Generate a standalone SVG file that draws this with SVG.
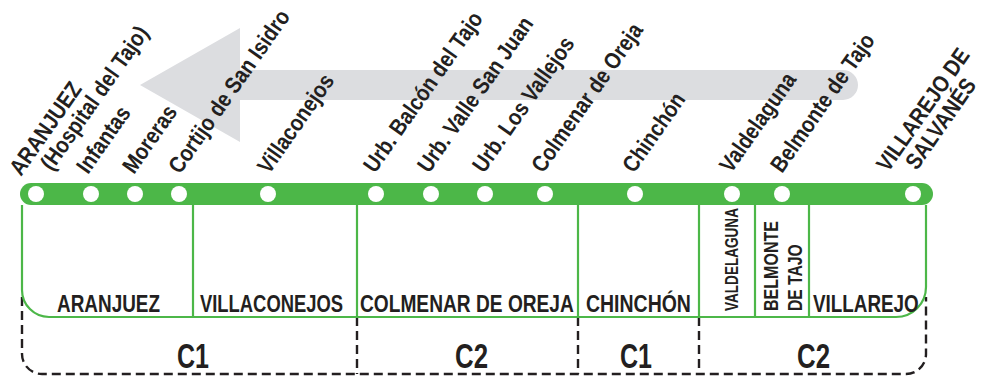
<svg xmlns="http://www.w3.org/2000/svg" width="981" height="381" viewBox="0 0 981 381">
<style>
text{font-family:"Liberation Sans",Arial,sans-serif;font-weight:bold;fill:#231f20}
.lbl{font-size:23px}
.box{font-size:23px}
.zone{font-size:35px}
.vert{font-size:21px}
.vsm{font-size:19px}
.div{stroke:#4cb748;stroke-width:2.2;fill:none}
.dash{stroke:#231f20;stroke-width:2.4;fill:none;stroke-dasharray:9 5}
.stop{fill:#ffffff}
</style>
<rect width="981" height="381" fill="#ffffff"/>
<g id="direction-arrow">
<path d="M140,85 L240,28 L240,70 L843,70 A15,15 0 0 1 843,100 L240,100 L240,142 Z" fill="#dcdde0"/>
</g>
<g id="connectors">
<path class="dash" d="M22,297 L22,354 A20,20 0 0 0 42,374 L906,374 A20,20 0 0 0 926,354 L926,297"/>
<path class="dash" d="M357,317 V374 M578,317 V374 M699,317 V374"/>
<path class="div" d="M22,205 V290 A27,27 0 0 0 49,317 H896 A30,30 0 0 0 926,287 V205"/>
<path class="div" d="M193,205 V317 M357,205 V317 M578,205 V317 M699,205 V317 M755,205 V317 M809,205 V317"/>
<rect x="20" y="183" width="913" height="22" rx="11" fill="#4cb748"/>
</g>
<g id="stations">
<circle class="stop" cx="36" cy="194" r="8"/>
<circle class="stop" cx="91" cy="194" r="8"/>
<circle class="stop" cx="135" cy="194" r="8"/>
<circle class="stop" cx="179" cy="194" r="8"/>
<circle class="stop" cx="268" cy="194" r="8"/>
<circle class="stop" cx="376" cy="194" r="8"/>
<circle class="stop" cx="431" cy="194" r="8"/>
<circle class="stop" cx="485" cy="194" r="8"/>
<circle class="stop" cx="545" cy="194" r="8"/>
<circle class="stop" cx="635" cy="194" r="8"/>
<circle class="stop" cx="732" cy="194" r="8"/>
<circle class="stop" cx="782" cy="194" r="8"/>
<circle class="stop" cx="913" cy="194" r="8"/>
</g>
<g id="station-labels">
<text class="lbl" transform="translate(21,177) rotate(-55) scale(0.86,1)">ARANJUEZ</text>
<text class="lbl" transform="translate(52,172) rotate(-55) scale(0.86,1)">(Hospital del Tajo)</text>
<text class="lbl" transform="translate(88,175) rotate(-55) scale(0.86,1)">Infantas</text>
<text class="lbl" transform="translate(134,175) rotate(-55) scale(0.86,1)">Moreras</text>
<text class="lbl" transform="translate(180,175) rotate(-55) scale(0.86,1)">Cortijo de San Isidro</text>
<text class="lbl" transform="translate(269,175) rotate(-55) scale(0.86,1)">Villaconejos</text>
<text class="lbl" transform="translate(375,174) rotate(-55) scale(0.86,1)">Urb. Balcón del Tajo</text>
<text class="lbl" transform="translate(429,174) rotate(-55) scale(0.86,1)">Urb. Valle San Juan</text>
<text class="lbl" transform="translate(484,174) rotate(-55) scale(0.86,1)">Urb. Los Vallejos</text>
<text class="lbl" transform="translate(543,174) rotate(-55) scale(0.86,1)">Colmenar de Oreja</text>
<text class="lbl" transform="translate(634,174) rotate(-55) scale(0.86,1)">Chinchón</text>
<text class="lbl" transform="translate(731,174) rotate(-55) scale(0.86,1)">Valdelaguna</text>
<text class="lbl" transform="translate(782,174) rotate(-55) scale(0.86,1)">Belmonte de Tajo</text>
<text class="lbl" transform="translate(888,173) rotate(-55) scale(0.86,1)">VILLAREJO DE</text>
<text class="lbl" transform="translate(917,171) rotate(-55) scale(0.86,1)">SALVANÉS</text>
</g>
<g id="municipalities">
<text class="box" transform="translate(57,312) scale(0.823,1)">ARANJUEZ</text>
<text class="box" transform="translate(200,312) scale(0.8,1)">VILLACONEJOS</text>
<text class="box" transform="translate(360,312) scale(0.833,1)">COLMENAR DE OREJA</text>
<text class="box" transform="translate(586,312) scale(0.847,1)">CHINCHÓN</text>
<text class="vsm" transform="translate(738,311) rotate(-90) scale(0.714,1)">VALDELAGUNA</text>
<text class="vert" transform="translate(778,311) rotate(-90) scale(0.764,1)">BELMONTE</text>
<text class="vert" transform="translate(802,311) rotate(-90) scale(0.747,1)">DE TAJO</text>
<text class="box" transform="translate(813,312) scale(0.82,1)">VILLAREJO</text>
</g>
<g id="zones">
<text class="zone" transform="translate(177,368) scale(0.716,1)">C1</text>
<text class="zone" transform="translate(455,368) scale(0.738,1)">C2</text>
<text class="zone" transform="translate(620,368) scale(0.716,1)">C1</text>
<text class="zone" transform="translate(797,368) scale(0.738,1)">C2</text>
</g>
</svg>
